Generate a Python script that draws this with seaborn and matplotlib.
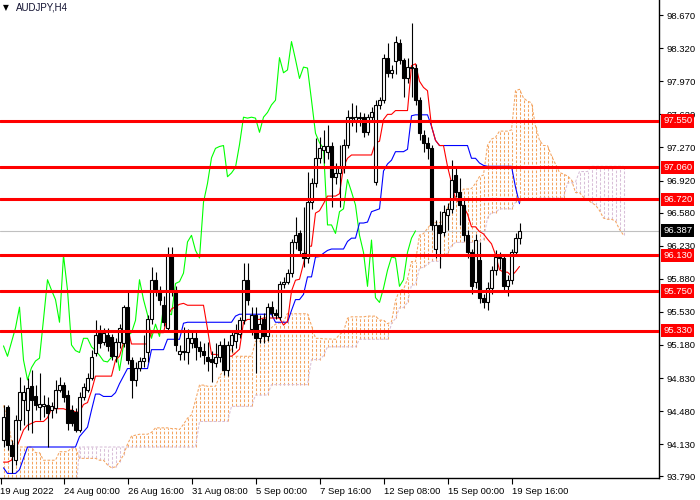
import numpy as np
import pandas as pd
import matplotlib
matplotlib.use("Agg")
import matplotlib.pyplot as plt
import seaborn as sns
from matplotlib.transforms import blended_transform_factory

# ---------------- data (AUDJPY H4) ----------------
opens = [94.17, 94.52, 94.12, 93.96, 94.39, 94.60, 94.49, 94.75, 94.64, 94.52,
         94.53, 94.54, 94.49, 94.51, 94.70, 94.76, 94.65, 94.49, 94.47, 94.28,
         94.63, 94.70, 94.83, 95.09, 95.31, 95.21, 95.28, 95.26, 95.06, 95.21,
         95.20, 95.58, 95.02, 94.81, 94.94, 95.01, 95.10, 95.45, 95.87, 95.76,
         95.60, 95.36, 96.13, 95.76, 95.08, 95.12, 95.10, 95.20, 95.25, 95.16,
         95.12, 95.05, 95.03, 94.99, 95.05, 95.18, 94.91, 95.18, 95.22, 95.30,
         95.44, 95.87, 95.35, 95.50, 95.25, 95.45, 95.27, 95.58, 95.52, 95.48,
         95.83, 95.85, 95.94, 96.27, 96.36, 96.15, 96.10, 96.69, 96.89, 97.16,
         97.24, 97.22, 97.29, 96.96, 97.00, 97.06, 97.30, 97.59, 97.56, 97.59,
         97.59, 97.43, 97.59, 96.90, 97.72, 97.77, 98.22, 98.06, 98.18, 98.38,
         98.20, 98.00, 98.12, 98.11, 97.77, 97.40, 97.32, 97.26, 96.20, 96.45,
         96.38, 96.55, 96.62, 96.98, 96.80, 96.66, 96.34, 96.16, 95.85, 96.08,
         95.68, 95.63, 95.78, 95.97, 96.11, 96.10, 95.80, 95.87, 96.16, 96.31]
highs = [94.54, 94.54, 94.17, 94.44, 94.84, 94.76, 94.83, 94.91, 94.76, 94.88,
         94.65, 94.63, 94.58, 94.81, 94.84, 94.79, 94.70, 94.54, 94.51, 94.68,
         94.78, 94.88, 95.13, 95.44, 95.39, 95.36, 95.36, 95.30, 95.25, 95.40,
         95.60, 95.76, 95.05, 95.00, 95.05, 95.28, 95.50, 96.00, 95.95, 95.80,
         95.70, 96.22, 96.22, 95.80, 95.18, 95.37, 95.35, 95.32, 95.34, 95.22,
         95.20, 95.21, 95.12, 95.20, 95.22, 95.25, 95.22, 95.33, 95.40, 95.48,
         96.05, 96.05, 95.58, 95.58, 95.50, 95.52, 95.62, 95.65, 95.56, 95.86,
         95.90, 95.98, 96.30, 96.53, 96.40, 96.64, 97.01, 96.95, 97.37, 97.38,
         97.45, 97.51, 97.33, 97.10, 97.30, 97.36, 97.67, 97.74, 97.72, 97.65,
         97.63, 97.62, 97.70, 97.77, 97.80, 98.26, 98.37, 98.14, 98.45, 98.42,
         98.22, 98.22, 98.59, 98.15, 97.80, 97.45, 97.38, 97.30, 96.50, 96.60,
         96.66, 96.68, 97.14, 97.05, 96.95, 96.72, 96.40, 96.20, 96.35, 96.27,
         95.72, 95.85, 96.02, 96.18, 96.16, 96.14, 95.92, 96.20, 96.36, 96.47]
lows = [94.10, 94.07, 93.83, 93.91, 94.28, 94.33, 94.28, 94.25, 94.49, 94.39,
        94.42, 94.10, 94.41, 94.46, 94.68, 94.58, 94.28, 94.32, 94.26, 94.26,
        94.60, 94.68, 94.81, 95.06, 95.15, 95.18, 95.12, 95.02, 95.00, 95.15,
        95.16, 94.98, 94.62, 94.75, 94.90, 94.95, 95.00, 95.40, 95.70, 95.60,
        95.38, 95.33, 95.70, 95.12, 95.02, 95.02, 94.98, 95.15, 95.02, 95.05,
        94.98, 94.90, 94.79, 94.95, 95.00, 94.86, 94.85, 95.10, 95.15, 95.25,
        95.40, 95.60, 95.28, 94.88, 95.20, 95.20, 95.22, 95.48, 95.45, 95.44,
        95.78, 95.82, 95.90, 96.20, 96.12, 96.00, 96.05, 96.62, 96.85, 97.10,
        97.10, 97.15, 96.64, 96.88, 96.64, 97.00, 97.26, 97.50, 97.43, 97.50,
        97.38, 97.40, 97.55, 96.87, 97.68, 97.74, 98.02, 98.00, 98.05, 98.15,
        97.80, 97.95, 97.80, 97.72, 97.35, 97.22, 97.15, 96.40, 96.10, 95.99,
        96.33, 96.40, 96.58, 96.75, 96.45, 96.28, 96.10, 95.72, 95.78, 95.62,
        95.57, 95.55, 95.72, 95.92, 95.98, 95.74, 95.70, 95.82, 96.12, 96.25]
closes = [94.42, 94.12, 94.01, 94.39, 94.68, 94.68, 94.72, 94.60, 94.54, 94.55,
          94.56, 94.46, 94.53, 94.70, 94.76, 94.63, 94.35, 94.35, 94.28, 94.63,
          94.73, 94.83, 95.05, 95.28, 95.20, 95.31, 95.17, 95.06, 95.21, 95.36,
          95.58, 95.02, 94.81, 94.94, 95.01, 95.04, 95.45, 95.87, 95.76, 95.66,
          95.42, 96.13, 95.76, 95.18, 95.12, 95.10, 95.25, 95.25, 95.16, 95.12,
          95.07, 95.01, 95.00, 95.05, 95.18, 94.91, 95.18, 95.28, 95.31, 95.44,
          95.87, 95.66, 95.50, 95.25, 95.40, 95.27, 95.58, 95.52, 95.50, 95.83,
          95.85, 95.94, 96.27, 96.34, 96.18, 96.10, 96.69, 96.89, 97.16, 97.26,
          97.28, 97.29, 96.96, 97.00, 97.06, 97.30, 97.59, 97.58, 97.59, 97.58,
          97.43, 97.59, 97.64, 97.72, 97.77, 98.22, 98.06, 98.09, 98.39, 98.20,
          98.00, 98.12, 98.11, 97.77, 97.42, 97.32, 97.26, 96.45, 96.45, 96.36,
          96.59, 96.62, 96.93, 96.80, 96.66, 96.34, 96.16, 95.80, 96.29, 95.68,
          95.63, 95.78, 95.97, 96.11, 96.10, 95.80, 95.87, 96.16, 96.31, 96.387]

# Ichimoku values visible before enough history exists in the window
tenkan_start = [93.94, 93.94, 93.96, 94.07, 94.17, 94.28, 94.33, 94.35]
kijun_start = [93.88, 93.82, 93.82, 93.82, 93.86, 93.98, 94.10, 94.10, 94.10, 94.10,
               94.10, 94.10, 94.10, 94.10, 94.10, 94.10, 94.10, 94.10, 94.10, 94.21,
               94.26, 94.31, 94.49, 94.66, 94.66]
span_a_start = [94.54, 94.39, 94.17, 94.10, 94.10, 94.10, 94.10, 94.10, 94.04, 94.04,
                93.96, 93.96, 93.96, 93.96, 94.05, 94.05, 94.05, 94.09, 94.09, 93.98,
                93.98, 93.98, 93.98, 93.98, 93.96, 93.96]
span_b_start = [93.55, 93.55, 93.55, 93.55, 93.55, 93.55, 93.55, 93.55, 93.55, 93.55,
                93.55, 93.55, 93.55, 93.55, 93.55, 93.55, 93.55, 93.55, 93.55, 94.10,
                94.10, 94.10, 94.10, 94.10, 94.10, 94.10, 94.10, 94.10, 94.10, 94.10,
                94.10, 94.10, 94.10, 94.10, 94.10, 94.10, 94.10, 94.10, 94.10, 94.10,
                94.10, 94.10, 94.10, 94.10, 94.10, 94.10, 94.10, 94.10, 94.10, 94.37,
                94.37, 94.37, 94.37, 94.37, 94.37, 94.37, 94.37, 94.53, 94.53, 94.53,
                94.53, 94.53, 94.53, 94.65, 94.65, 94.65, 94.65, 94.76, 94.76, 94.76,
                94.76, 94.76, 94.76, 94.76, 94.76, 94.76, 94.76]

level_lines = [97.550, 97.060, 96.720, 96.130, 95.750, 95.330]
current_price = 96.387
price_ticks = [98.670, 98.320, 97.970, 97.620, 97.270, 96.920, 96.580, 96.230,
               95.880, 95.530, 95.180, 94.830, 94.480, 94.130, 93.790]
time_tick_bars = [-0.75, 15, 31, 47, 63, 79, 95, 111, 127]
time_tick_labels = ["19 Aug 2022", "24 Aug 00:00", "26 Aug 16:00", "31 Aug 08:00",
                    "5 Sep 00:00", "7 Sep 16:00", "12 Sep 08:00", "15 Sep 00:00",
                    "19 Sep 16:00"]
symbol_title = "AUDJPY,H4"

# ---------------- Ichimoku ----------------
df = pd.DataFrame({"o": opens, "h": highs, "l": lows, "c": closes})
n = len(df)
shift = 26
tenkan = ((df.h.rolling(9).max() + df.l.rolling(9).min()) / 2).to_numpy()
tenkan[:len(tenkan_start)] = tenkan_start
kijun = ((df.h.rolling(26).max() + df.l.rolling(26).min()) / 2).to_numpy()
kijun[:len(kijun_start)] = kijun_start
span_a = np.concatenate([span_a_start, (tenkan + kijun) / 2])
span_b_calc = ((df.h.rolling(52).max() + df.l.rolling(52).min()) / 2).to_numpy()
span_b = np.concatenate([span_b_start, span_b_calc[51:]])
cloud_x = np.arange(len(span_a))
chikou_x = np.arange(n - shift)
chikou = df.c.to_numpy()[shift:]

# ---------------- figure ----------------
sns.set_style("white")
plt.rcParams["font.family"] = ["Liberation Sans", "DejaVu Sans"]
FS = 6.8
fig = plt.figure(figsize=(7, 5), dpi=100)
W, H = 700, 500
ax = fig.add_axes([0, 22 / H, 659 / W, 478 / H])
ax.set_facecolor("white")

orange = "#F4A460"
thistle = "#D8BFD8"
dash = (0, (2.6, 1.6))

lo_c = np.minimum(span_a, span_b)
hi_c = np.maximum(span_a, span_b)
cols = [orange if a >= b else thistle for a, b in zip(span_a, span_b)]
ax.vlines(cloud_x, lo_c, hi_c, colors=cols, linestyles=[dash], linewidth=0.75, zorder=1)
ax.plot(cloud_x, span_a, color=orange, lw=0.75, ls=dash, zorder=1.2)
ax.plot(cloud_x, span_b, color=thistle, lw=0.75, ls=dash, zorder=1.2)

ax.axhline(current_price, color="#C0C0C0", lw=0.8, zorder=1.5)

idx = np.arange(n)
sns.lineplot(x=chikou_x, y=chikou, color="#00FF00", lw=0.8, ax=ax, zorder=2)
sns.lineplot(x=idx, y=kijun, color="#0000FF", lw=0.8, ax=ax, zorder=2.1)
sns.lineplot(x=idx, y=tenkan, color="#FF0000", lw=0.8, ax=ax, zorder=2.2)

# candles
o = df.o.to_numpy(); c = df.c.to_numpy()
ax.vlines(idx, df.l, df.h, color="black", lw=0.8, zorder=3)
up = c >= o
body_lo = np.minimum(o, c)
body_h = np.maximum(np.abs(c - o), 0.008)
ax.bar(idx[up], body_h[up], bottom=body_lo[up], width=0.55, color="white",
       edgecolor="black", linewidth=0.8, zorder=3.2)
ax.bar(idx[~up], body_h[~up], bottom=body_lo[~up], width=0.55, color="black",
       edgecolor="black", linewidth=0.8, zorder=3.2)

for lv in level_lines:
    ax.axhline(lv, color="#FF0000", lw=2.2, zorder=4)

ax.set_xlim(-0.875, -0.875 + 659 / 4)
ax.set_ylim(93.772, 98.83)
ax.set_xlabel(""); ax.set_ylabel("")

# axes styling
for s in ["left", "top"]:
    ax.spines[s].set_visible(False)
for s in ["right", "bottom"]:
    ax.spines[s].set_color("black")
    ax.spines[s].set_linewidth(1.0)
ax.yaxis.tick_right()
ax.set_yticks(price_ticks)
ax.set_yticklabels([f"{v:.3f}" for v in price_ticks])
ax.tick_params(axis="y", direction="out", length=3, width=0.8, pad=2.5,
               labelsize=FS, colors="black", right=True, left=False)
ax.set_xticks(time_tick_bars)
ax.set_xticklabels(time_tick_labels, ha="left")
ax.tick_params(axis="x", direction="out", length=4, width=0.8, pad=2.5,
               labelsize=FS, colors="black", bottom=True)

# price tags
tr = blended_transform_factory(ax.transAxes, ax.transData)
xt = 663 / 659
for lv in level_lines:
    ax.text(xt, lv, f"{lv:.3f}", transform=tr, ha="left", va="center", fontsize=FS,
            color="white", clip_on=False, zorder=10,
            bbox=dict(boxstyle="square,pad=0.22", fc="#FF0000", ec="none"))
ax.text(xt, current_price, f"{current_price:.3f}", transform=tr, ha="left",
        va="center", fontsize=FS, color="white", clip_on=False, zorder=10,
        bbox=dict(boxstyle="square,pad=0.22", fc="black", ec="none"))

fig.text(3 / W, 1 - 8 / H, "\u25BC", fontsize=5.5, va="center", ha="left",
         color="black", family="DejaVu Sans")
fig.text(16 / W, 1 - 8 / H, symbol_title, fontsize=7, va="center", ha="left",
         color="#101030")

fig.savefig("out.png", dpi=100, facecolor="white")
